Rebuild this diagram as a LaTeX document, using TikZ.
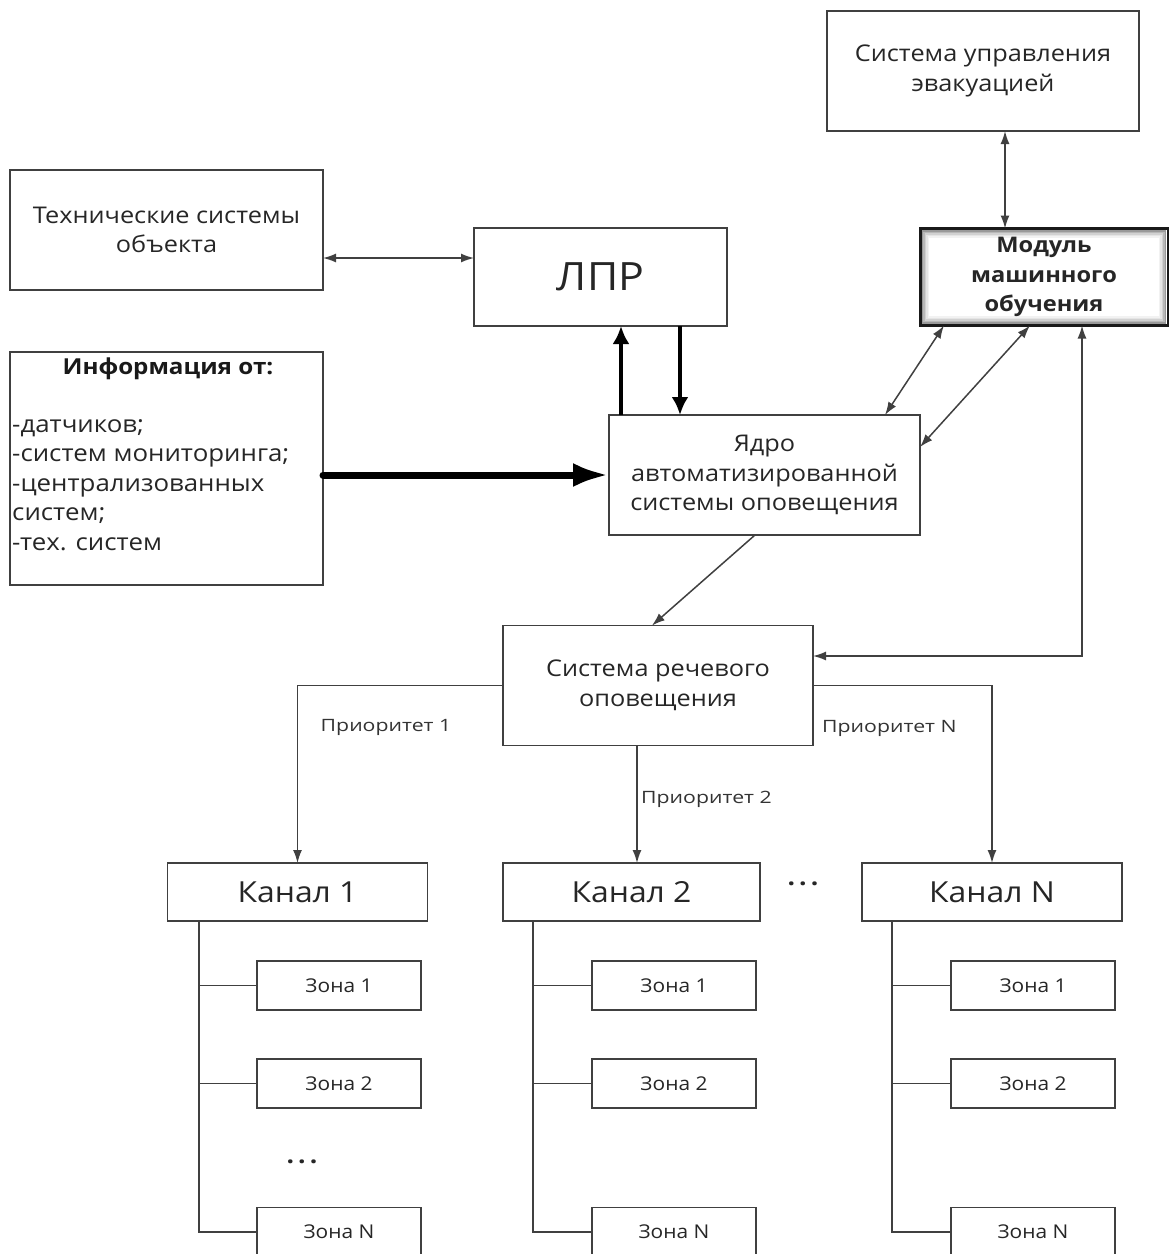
\documentclass[tikz,border=0pt]{standalone}
\usepackage{fontspec}
\setmainfont{Open Sans}[FakeStretch=1.1]
\newfontfamily\lblfont{Open Sans}[FakeStretch=1.25]
\usetikzlibrary{arrows.meta,calc}
\tikzset{
  box/.style={draw=black!75, line width=1.5pt, inner sep=0pt, outer sep=0pt, align=center,
    text=black!85, font=\fontsize{23}{29.5}\selectfont},
  chbox/.style={box, minimum width=260pt, minimum height=58pt, font=\fontsize{29}{32}\selectfont},
  zbox/.style={box, minimum width=164pt, minimum height=49pt, font=\fontsize{19}{22}\selectfont},
  conn/.style={draw=black!75, line width=1.5pt},
  thin2/.style={conn, -{Latex[length=13pt,width=9pt]}},
  thin2b/.style={conn, {Latex[length=13pt,width=9pt]}-{Latex[length=13pt,width=9pt]}},
  thick2/.style={draw=black, line width=4.5pt, -{Latex[length=18pt,width=17pt]}},
  vthick/.style={draw=black, line width=7pt, line cap=round, -{Latex[length=36pt,width=24pt]}},
  lbl/.style={inner sep=0pt, text=black!80, font=\lblfont\fontsize{17}{20}\selectfont},
  dots/.style={inner sep=0pt, text=black!85, font=\fontsize{24}{26}\bfseries},
  glow/.style={path picture={
    \foreach \d/\c in {2.5/40,4/28,5.5/18,7/10,8.5/5}
      \draw[black!\c, line width=1.5pt]
        ($(path picture bounding box.north west)+(\d,\d)$) rectangle
        ($(path picture bounding box.south east)-(\d,\d)$);}}
}
\begin{document}
\begin{tikzpicture}[x=1pt,y=-1pt]
\useasboundingbox (0,0) rectangle (1169,1254);
\clip (0,0) rectangle (1169,1254);

% boxes
\node[box, minimum width=312pt, minimum height=120pt] (evac) at (983,71) {Система управления\\эвакуацией};
\node[box, minimum width=313pt, minimum height=120pt] (tech) at (166.5,230) {Технические системы\\объекта};
\node[box, minimum width=253pt, minimum height=98pt, font=\fontsize{39}{44}\selectfont] (lpr) at (600.5,277) {ЛПР};
\node[box, glow, draw=black!90, line width=3pt, minimum width=248pt, minimum height=97pt,
      font=\fontsize{21.5}{29.5}\selectfont\bfseries] (ml) at (1044,277) {Модуль\\машинного\\обучения};
\node[box, minimum width=313pt, minimum height=233pt] (info) at (166.5,468.5) {};
\node[inner sep=0pt, text=black!90, font=\fontsize{22}{29.5}\selectfont\bfseries] (infot) at (168,369) {Информация от:};
\node[inner sep=0pt, anchor=north west, align=left, text=black!85, font=\fontsize{23.5}{29.5}\selectfont] (infol) at (12,419)
  {-датчиков;\\-систем мониторинга;\\-централизованных\\систем;\\-тех. систем};
\node[box, minimum width=311pt, minimum height=120pt] (core) at (764.5,475) {Ядро\\автоматизированной\\системы оповещения};
\node[box, minimum width=310pt, minimum height=120pt] (speech) at (658,685.5) {Система речевого\\оповещения};

\node[chbox] (ch1) at (297.5,892) {Канал 1};
\node[chbox, minimum width=257pt] (ch2) at (631.5,892) {Канал 2};
\node[chbox] (chN) at (992,892) {Канал N};

\node[zbox] (z11) at (339,985.5) {Зона 1};
\node[zbox] (z12) at (339,1083.5) {Зона 2};
\node[zbox] (z1N) at (339,1232) {Зона N};
\node[zbox] (z21) at (674,985.5) {Зона 1};
\node[zbox] (z22) at (674,1083.5) {Зона 2};
\node[zbox] (z2N) at (674,1232) {Зона N};
\node[zbox] (zN1) at (1033,985.5) {Зона 1};
\node[zbox] (zN2) at (1033,1083.5) {Зона 2};
\node[zbox] (zNN) at (1033,1232) {Зона N};

\node[dots] (dA) at (803,884) {.\hspace{4pt}.\hspace{4pt}.};
\node[dots] (dB) at (302,1162) {.\hspace{4pt}.\hspace{4pt}.};

% helper coordinates
\coordinate (y258) at (0,258);
\coordinate (x1005) at (1005,0);
\coordinate (x621) at (621,0);
\coordinate (x680) at (680,0);
\coordinate (x944) at (944,0);
\coordinate (x885) at (885,0);
\coordinate (x1030) at (1030,0);
\coordinate (y447) at (0,447);
\coordinate (bend) at (1082,656);
\coordinate (x755) at (755,0);
\coordinate (x652) at (652,0);
\coordinate (x637) at (637,0);
\coordinate (t1) at (199,0);
\coordinate (t2) at (533,0);
\coordinate (t3) at (892,0);

% connectors
\draw[thin2b] (tech.east |- y258) -- (lpr.west |- y258);
\draw[thin2b] (evac.south -| x1005) -- (ml.north -| x1005);
\draw[thick2] (core.north -| x621) -- (lpr.south -| x621);
\draw[thick2] (lpr.south -| x680) -- (core.north -| x680);
\draw[vthick] (info.east |- core.west) -- (core.west);
\draw[thin2b] (ml.south -| x944) -- (core.north -| x885);
\draw[thin2b] (ml.south -| x1030) -- (core.east |- y447);
\draw[thin2b] (ml.south -| bend) -- (bend) -- (speech.east |- bend);
\draw[thin2] (core.south -| x755) -- (speech.north -| x652);

\draw[thin2] (speech.west) -| (ch1.north);
\draw[thin2] (speech.south -| x637) -- (ch2.north -| x637);
\draw[thin2] (speech.east) -| (chN.north);

\node[lbl] (p1) at (386,727) {Приоритет 1};
\node[lbl, anchor=west] (p2) at (641,799) {Приоритет 2};
\node[lbl, anchor=west] (pN) at (822,728) {Приоритет N};

% trees
\draw[conn] (ch1.south -| t1) |- (z1N.west);
\draw[conn] (t1 |- z11.west) -- (z11.west);
\draw[conn] (t1 |- z12.west) -- (z12.west);
\draw[conn] (ch2.south -| t2) |- (z2N.west);
\draw[conn] (t2 |- z21.west) -- (z21.west);
\draw[conn] (t2 |- z22.west) -- (z22.west);
\draw[conn] (chN.south -| t3) |- (zNN.west);
\draw[conn] (t3 |- zN1.west) -- (zN1.west);
\draw[conn] (t3 |- zN2.west) -- (zN2.west);
\end{tikzpicture}
\end{document}
